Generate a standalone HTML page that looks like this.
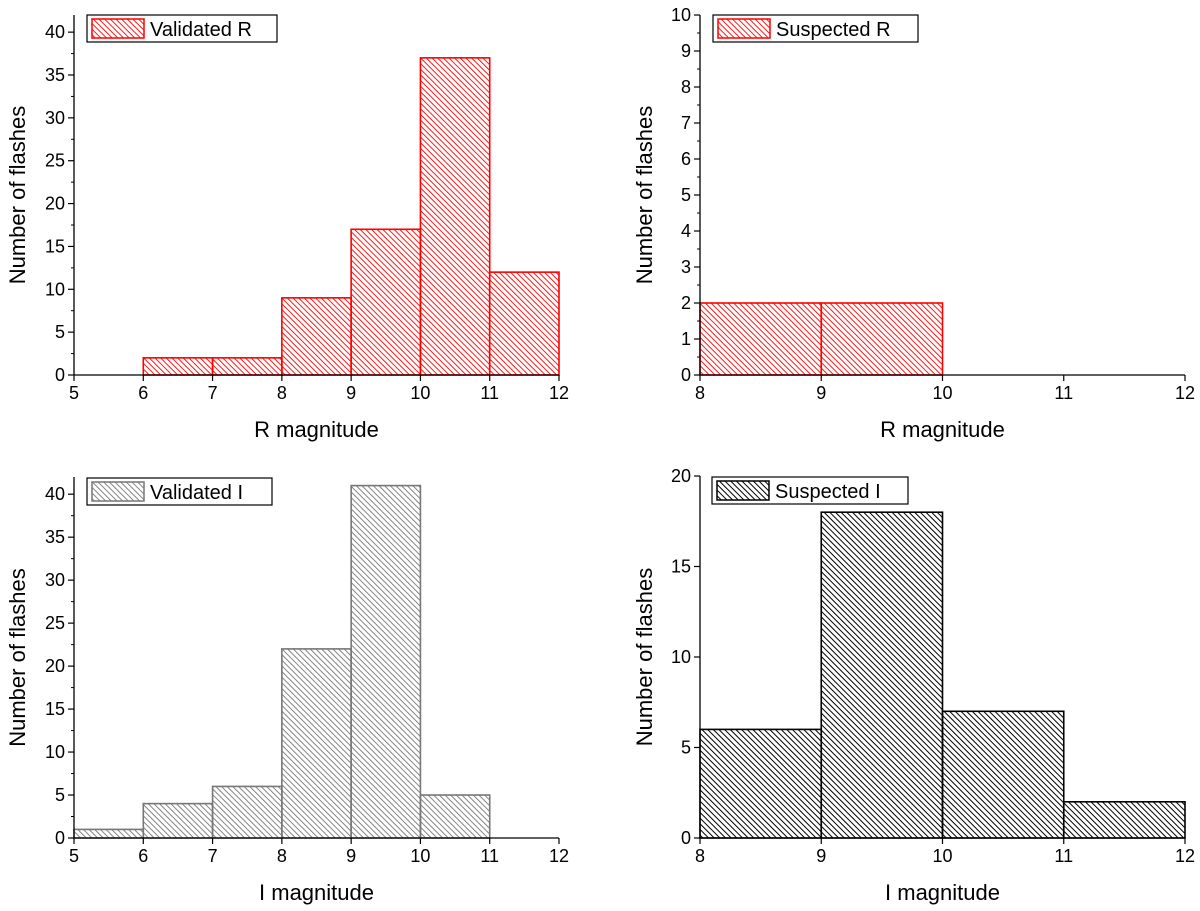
<!DOCTYPE html>
<html><head><meta charset="utf-8"><style>
html,body{margin:0;padding:0;background:#fff;}
svg{display:block;font-family:"Liberation Sans",Arial,sans-serif;}
</style></head><body>
<svg id="fig" width="1200" height="911" viewBox="0 0 1200 911">
<defs>
<pattern id="hred" width="4" height="4" patternUnits="userSpaceOnUse" patternTransform="rotate(-45)"><line x1="0" y1="0" x2="0" y2="4" stroke="#ff0000" stroke-width="1.8"/></pattern>
<pattern id="hgray" width="4" height="4" patternUnits="userSpaceOnUse" patternTransform="rotate(-45)"><line x1="0" y1="0" x2="0" y2="4" stroke="#777" stroke-width="1.8"/></pattern>
<pattern id="hblack" width="4" height="4" patternUnits="userSpaceOnUse" patternTransform="rotate(-45)"><line x1="0" y1="0" x2="0" y2="4" stroke="#000" stroke-width="2"/></pattern>
</defs>
</svg>
<script>
// Validated R
const vrEdges = [6,7,8,9,10,11,12];
const vrCounts = [2,2,9,17,37,12];
// Suspected R
const srEdges = [8,9,10];
const srCounts = [2,2];
// Validated I
const viEdges = [5,6,7,8,9,10,11];
const viCounts = [1,4,6,22,41,5];
// Suspected I
const siEdges = [8,9,10,11,12];
const siCounts = [6,18,7,2];
const vrYTicks = [0,5,10,15,20,25,30,35,40];
const srYTicks = [0,1,2,3,4,5,6,7,8,9,10];
const viYTicks = [0,5,10,15,20,25,30,35,40];
const siYTicks = [0,5,10,15,20];
const leftXTicks = [5,6,7,8,9,10,11,12];
const rightXTicks = [8,9,10,11,12];

const NS = "http://www.w3.org/2000/svg";
const svg = document.getElementById('fig');
function mk(tag, attrs, parent){
  const e = document.createElementNS(NS, tag);
  for (const k in attrs) e.setAttribute(k, attrs[k]);
  (parent||svg).appendChild(e);
  return e;
}
function panel(o){
  const g = mk('g', {});
  
  
  const sx = v => o.x0 + (v - o.xmin) / (o.xmax - o.xmin) * (o.x1 - o.x0);
  const sy = v => o.y0 - (v - o.ymin) / (o.ymax - o.ymin) * (o.y0 - o.y1);
  for (let i = 0; i < o.counts.length; i++){
    const xa = sx(o.edges[i]), xb = sx(o.edges[i+1]), yt = sy(o.counts[i]), yb = sy(0);
    const r = mk('rect', {x:xa, y:yt, width:xb-xa, height:yb-yt, fill:'url(#'+o.pat+')', stroke:o.color, 'stroke-width':1.6}, g);
    
    
  }
  const ax = mk('g', {}, g);
  
  
  mk('line', {x1:o.x0, y1:o.y0, x2:o.x1, y2:o.y0, stroke:'#000', 'stroke-width':1.3}, ax);
  mk('line', {x1:o.x0, y1:o.y0, x2:o.x0, y2:o.y1, stroke:'#000', 'stroke-width':1.3}, ax);
  o.xticks.forEach(t => {
    mk('line', {x1:sx(t), y1:o.y0, x2:sx(t), y2:o.y0+6, stroke:'#000', 'stroke-width':1.2}, ax);
    const tx = mk('text', {x:sx(t), y:o.y0+24, 'font-size':18, 'text-anchor':'middle', fill:'#000'}, ax);
    tx.textContent = t;
    
    
  });
  o.yticks.forEach((t, i) => {
    mk('line', {x1:o.x0-6, y1:sy(t), x2:o.x0, y2:sy(t), stroke:'#000', 'stroke-width':1.2}, ax);
    const ty = mk('text', {x:o.x0-9, y:sy(t)+6, 'font-size':18, 'text-anchor':'end', fill:'#000'}, ax);
    ty.textContent = t;
    
    
    if (o.minor) {
      const step = o.yticks[1] - o.yticks[0];
      const m = t + step/2;
      if (m < o.ymax) mk('line', {x1:o.x0-3, y1:sy(m), x2:o.x0, y2:sy(m), stroke:'#000', 'stroke-width':1}, ax);
    }
  });
  const xt = mk('text', {x:(o.x0+o.x1)/2, y:o.y0+62, 'font-size':22, 'text-anchor':'middle', fill:'#000'}, g);
  xt.textContent = o.xlabel;
  
  
  const yc = (o.y0+o.y1)/2;
  const yt = mk('text', {x:o.ylx, y:yc, 'font-size':22, 'text-anchor':'middle', fill:'#000', transform:'rotate(-90 '+o.ylx+' '+yc+')'}, g);
  yt.textContent = 'Number of flashes';
  
  
  const lg = mk('g', {}, g);
  
  
  mk('rect', {x:o.lx, y:o.ly, width:o.lw, height:27, fill:'#fff', stroke:'#000', 'stroke-width':1.2}, lg);
  mk('rect', {x:o.lx+5, y:o.ly+4, width:52, height:19, fill:'url(#'+o.pat+')', stroke:o.color, 'stroke-width':1.5}, lg);
  const lt = mk('text', {x:o.lx+63, y:o.ly+21, 'font-size':20, fill:'#000'}, lg);
  lt.textContent = o.legend;
  
  
}
panel({name:'validated-r-panel', edges:vrEdges, counts:vrCounts, xticks:leftXTicks, yticks:vrYTicks, minor:true,
  xmin:5, xmax:12, ymin:0, ymax:42, x0:74, x1:559, y0:375, y1:15, pat:'hred', color:'#ff0000',
  xlabel:'R magnitude', ylx:25, legend:'Validated R', lx:87, ly:15, lw:190});
panel({name:'suspected-r-panel', edges:srEdges, counts:srCounts, xticks:rightXTicks, yticks:srYTicks, minor:true,
  xmin:8, xmax:12, ymin:0, ymax:10, x0:700, x1:1185, y0:375, y1:15, pat:'hred', color:'#ff0000',
  xlabel:'R magnitude', ylx:652, legend:'Suspected R', lx:713, ly:15, lw:205});
panel({name:'validated-i-panel', edges:viEdges, counts:viCounts, xticks:leftXTicks, yticks:viYTicks, minor:true,
  xmin:5, xmax:12, ymin:0, ymax:42, x0:74, x1:559, y0:838, y1:477, pat:'hgray', color:'#777',
  xlabel:'I magnitude', ylx:25, legend:'Validated I', lx:87, ly:478, lw:185});
panel({name:'suspected-i-panel', edges:siEdges, counts:siCounts, xticks:rightXTicks, yticks:siYTicks, minor:false,
  xmin:8, xmax:12, ymin:0, ymax:20, x0:700, x1:1185, y0:838, y1:476, pat:'hblack', color:'#000',
  xlabel:'I magnitude', ylx:652, legend:'Suspected I', lx:712, ly:477, lw:196});
</script>
</body></html>
